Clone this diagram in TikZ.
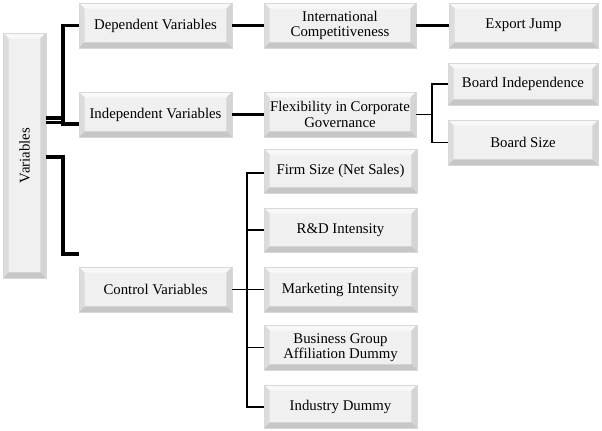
\documentclass[tikz,border=0pt]{standalone}
\usepackage{fontspec}
\setmainfont{Liberation Serif}
\definecolor{bvface}{HTML}{F0F0F0}
\definecolor{bvtop}{HTML}{F8F8F8}
\definecolor{bvleft}{HTML}{DCDCDC}
\definecolor{bvright}{HTML}{D4D4D4}
\definecolor{bvbot}{HTML}{C6C6C6}
\definecolor{bvborder}{HTML}{D8D8D8}
\tikzset{
  bevelbox/.style 2 args={draw=bvborder, line width=0.4pt, fill=bvface,
    minimum width=#1*0.75pt, minimum height=#2*0.75pt,
    inner sep=0pt, outer sep=0pt, align=center,
    font=\fontsize{11.1}{11.6}\selectfont,
    path picture={
      \def\bw{4.2pt}
      \coordinate (NW) at (path picture bounding box.north west);
      \coordinate (NE) at (path picture bounding box.north east);
      \coordinate (SW) at (path picture bounding box.south west);
      \coordinate (SE) at (path picture bounding box.south east);
      \fill[bvtop] (NW) -- (NE) -- ([shift={(-\bw,-\bw)}]NE) -- ([shift={(\bw,-\bw)}]NW) -- cycle;
      \fill[bvleft] (NW) -- (SW) -- ([shift={(\bw,\bw)}]SW) -- ([shift={(\bw,-\bw)}]NW) -- cycle;
      \fill[bvright] (NE) -- (SE) -- ([shift={(-\bw,\bw)}]SE) -- ([shift={(-\bw,-\bw)}]NE) -- cycle;
      \fill[bvbot] (SW) -- (SE) -- ([shift={(-\bw,\bw)}]SE) -- ([shift={(\bw,\bw)}]SW) -- cycle;
    }},
  thickln/.style={line width=2.3pt, black},
  thinln/.style={line width=1.1pt, black},
  lbl/.style={font=\fontsize{11.1}{11.6}\selectfont, inner sep=0pt}
}
\begin{document}
\begin{tikzpicture}[x=0.75pt, y=-0.75pt]
\useasboundingbox (0,0) rectangle (602,431);
\fill[white] (0,0) rectangle (602,431);

% boxes
\node[bevelbox={43}{245}] (var) at (24.5,155.5) {};
\node[lbl, rotate=90] (vartxt) at (var.center) {Variables};

\node[bevelbox={153}{45}] (dep) at (155.5,25.5) {Dependent Variables};
\node[bevelbox={153}{45}] (ind) at (155.5,114.5) {Independent Variables};
\node[bevelbox={153}{45}] (ctl) at (155.5,289.5) {Control Variables};

\node[bevelbox={152}{45}] (intl) at (340,25.5) {International\\Competitiveness};
\node[bevelbox={152}{45}] (flex) at (340,114.5) {Flexibility in Corporate\\Governance};

\node[bevelbox={149}{45}] (exp) at (523.5,25.5) {Export Jump};
\node[bevelbox={150}{42}] (bi) at (523,84) {Board Independence};
\node[bevelbox={150}{45}] (bs) at (523,142.5) {Board Size};

\node[bevelbox={153}{44}] (fs) at (340.5,171) {Firm Size (Net Sales)};
\node[bevelbox={153}{44}] (rd) at (340.5,230) {R\&D Intensity};
\node[bevelbox={153}{45}] (mkt) at (340.5,289.5) {Marketing Intensity};
\node[bevelbox={153}{45}] (bg) at (340.5,347.5) {Business Group\\Affiliation Dummy};
\node[bevelbox={153}{43}] (idum) at (340.5,406.5) {Industry Dummy};

% junction coordinates
\coordinate (j1) at (63,0);
\coordinate (j2) at (432,0);
\coordinate (j3) at (247,0);

% thick connectors from Variables
\draw[thickln] (var.east |- 0,118) -- (j1 |- 0,118);
\draw[thickln] (var.east |- 0,122.5) -- (j1 |- 0,122.5);
\draw[thickln] (dep.west) -| (j1 |- 0,124) -- (ind.west |- 0,124);
\draw[thickln] (var.east |- 0,157) -| (j1 |- 0,254) -- (ctl.west |- 0,254);

\draw[thickln] (dep.east) -- (intl.west);
\draw[thickln] (intl.east) -- (exp.west);
\draw[thickln] (ind.east) -- (flex.west);

% thin connectors
\draw[thinln] (flex.east) -- (j2 |- flex.east);
\draw[thinln] (bi.west) -| (j2 |- bs.west) -- (bs.west);

\draw[thinln] (ctl.east) -- (mkt.west);
\draw[thinln] (fs.west |- 0,173) -| (j3 |- 0,407) -- (idum.west |- 0,407);
\draw[thinln] (j3 |- rd.west) -- (rd.west);
\draw[thinln] (j3 |- bg.west) -- (bg.west);
\end{tikzpicture}
\end{document}
